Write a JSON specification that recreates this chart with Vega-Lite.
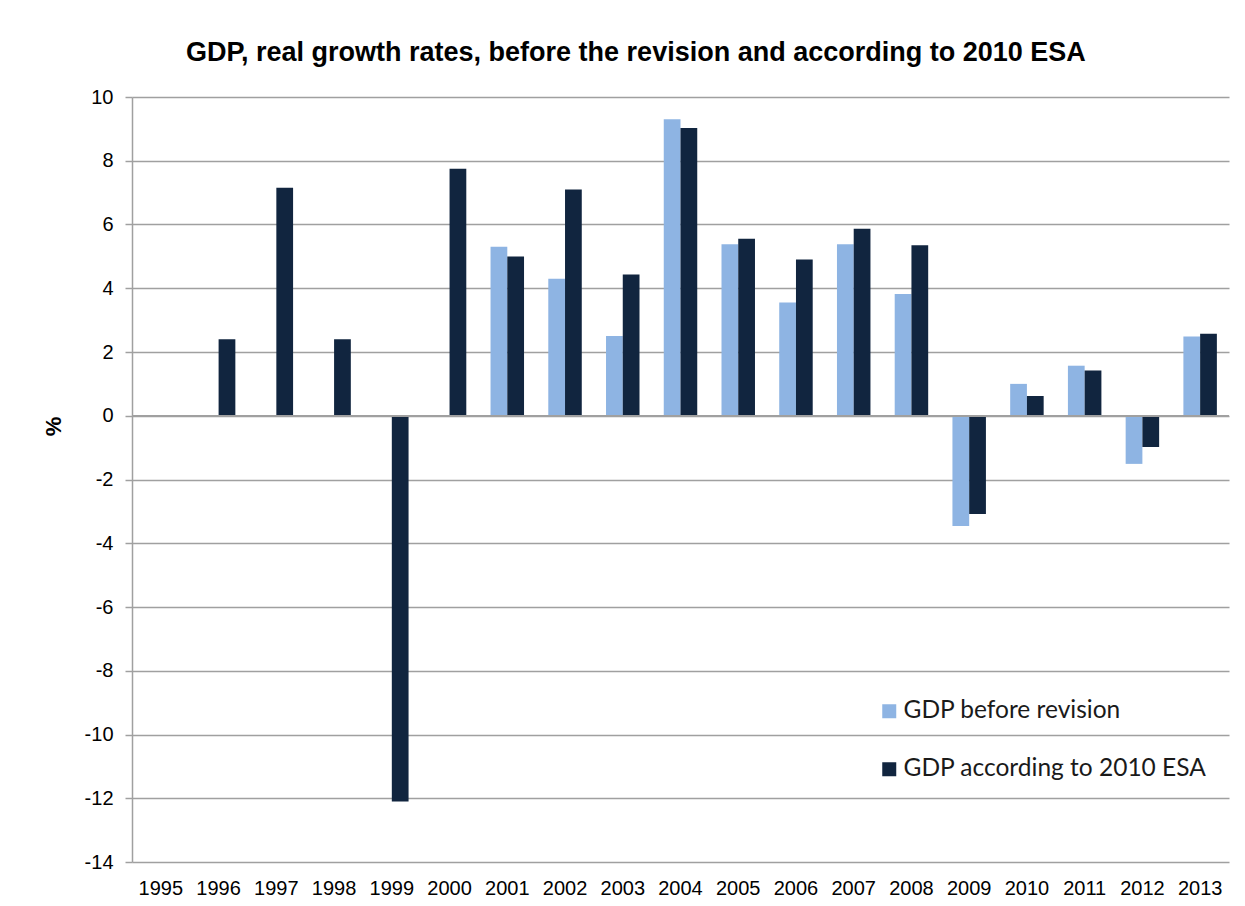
{
  "$schema": "https://vega.github.io/schema/vega-lite/v6.json",
  "width": 1097,
  "height": 765,
  "autosize": {"type": "none"},
  "padding": {"left": 132, "top": 97, "right": 16, "bottom": 44},
  "background": "white",
  "title": {
    "text": "GDP, real growth rates, before the revision and according to 2010 ESA",
    "font": "Liberation Sans",
    "fontSize": 27,
    "fontWeight": "bold",
    "color": "#000000",
    "anchor": "middle",
    "frame": "bounds",
    "baseline": "alphabetic",
    "offset": -1
  },
  "config": {
    "view": {"stroke": null},
    "axis": {"labelFont": "Liberation Sans", "labelFontSize": 20, "labelColor": "#000000"}
  },
  "data": {
    "values": [
      {"year": "1996", "series": "GDP according to 2010 ESA", "value": 2.4},
      {"year": "1997", "series": "GDP according to 2010 ESA", "value": 7.15},
      {"year": "1998", "series": "GDP according to 2010 ESA", "value": 2.4},
      {"year": "1999", "series": "GDP according to 2010 ESA", "value": -12.1},
      {"year": "2000", "series": "GDP according to 2010 ESA", "value": 7.75},
      {"year": "2001", "series": "GDP before revision", "value": 5.3},
      {"year": "2001", "series": "GDP according to 2010 ESA", "value": 5.0},
      {"year": "2002", "series": "GDP before revision", "value": 4.3},
      {"year": "2002", "series": "GDP according to 2010 ESA", "value": 7.1},
      {"year": "2003", "series": "GDP before revision", "value": 2.5},
      {"year": "2003", "series": "GDP according to 2010 ESA", "value": 4.43},
      {"year": "2004", "series": "GDP before revision", "value": 9.3},
      {"year": "2004", "series": "GDP according to 2010 ESA", "value": 9.03},
      {"year": "2005", "series": "GDP before revision", "value": 5.38},
      {"year": "2005", "series": "GDP according to 2010 ESA", "value": 5.55},
      {"year": "2006", "series": "GDP before revision", "value": 3.55},
      {"year": "2006", "series": "GDP according to 2010 ESA", "value": 4.9},
      {"year": "2007", "series": "GDP before revision", "value": 5.38},
      {"year": "2007", "series": "GDP according to 2010 ESA", "value": 5.87},
      {"year": "2008", "series": "GDP before revision", "value": 3.82},
      {"year": "2008", "series": "GDP according to 2010 ESA", "value": 5.35},
      {"year": "2009", "series": "GDP before revision", "value": -3.46},
      {"year": "2009", "series": "GDP according to 2010 ESA", "value": -3.08},
      {"year": "2010", "series": "GDP before revision", "value": 1.0},
      {"year": "2010", "series": "GDP according to 2010 ESA", "value": 0.62},
      {"year": "2011", "series": "GDP before revision", "value": 1.57},
      {"year": "2011", "series": "GDP according to 2010 ESA", "value": 1.42},
      {"year": "2012", "series": "GDP before revision", "value": -1.51},
      {"year": "2012", "series": "GDP according to 2010 ESA", "value": -0.98},
      {"year": "2013", "series": "GDP before revision", "value": 2.49},
      {"year": "2013", "series": "GDP according to 2010 ESA", "value": 2.57}
    ]
  },
  "layer": [
    {
      "mark": {"type": "bar"},
      "encoding": {
        "x": {
          "field": "year",
          "type": "nominal",
          "scale": {
            "domain": ["1995","1996","1997","1998","1999","2000","2001","2002","2003","2004","2005","2006","2007","2008","2009","2010","2011","2012","2013"],
            "paddingInner": 0.42,
            "paddingOuter": 0.21
          },
          "axis": {
            "title": null,
            "labelAngle": 0,
            "ticks": false,
            "domain": false,
            "grid": false,
            "labelPadding": 16
          }
        },
        "xOffset": {
          "field": "series",
          "type": "nominal",
          "scale": {"domain": ["GDP before revision", "GDP according to 2010 ESA"], "paddingInner": 0, "paddingOuter": 0}
        },
        "y": {
          "field": "value",
          "type": "quantitative",
          "scale": {"domain": [-14, 10], "nice": false, "zero": false},
          "axis": {
            "title": "%",
            "titleFont": "Liberation Sans",
            "titleFontSize": 22,
            "titleFontWeight": "bold",
            "titleColor": "#000000",
            "titleAngle": -90,
            "titleX": -67,
            "titleY": 329,
            "titleAlign": "center",
            "titleBaseline": "bottom",
            "values": [-14,-12,-10,-8,-6,-4,-2,0,2,4,6,8,10],
            "labelExpr": "replace(datum.label, '\u2212', '-')",
            "grid": true,
            "gridColor": "#a0a0a0",
            "gridWidth": 1.5,
            "domainColor": "#a0a0a0",
            "domainWidth": 1.5,
            "tickColor": "#a0a0a0",
            "tickWidth": 1.5,
            "tickSize": 7,
            "labelPadding": 12
          }
        },
        "color": {
          "field": "series",
          "type": "nominal",
          "scale": {"domain": ["GDP before revision", "GDP according to 2010 ESA"], "range": ["#8eb4e3", "#11253f"]},
          "legend": {
            "title": null,
            "orient": "none",
            "legendX": 745,
            "legendY": 602,
            "symbolType": "square",
            "symbolSize": 196,
            "symbolStrokeWidth": 0,
            "labelFont": "Lato",
            "labelFontSize": 24.5,
            "labelLimit": 500,
            "labelColor": "#1a1a1a",
            "labelOffset": 2,
            "rowPadding": 33,
            "padding": 0
          }
        }
      }
    },
    {
      "mark": {"type": "rule", "color": "#a0a0a0", "strokeWidth": 1.5},
      "encoding": {"y": {"datum": 0}}
    }
  ]
}
